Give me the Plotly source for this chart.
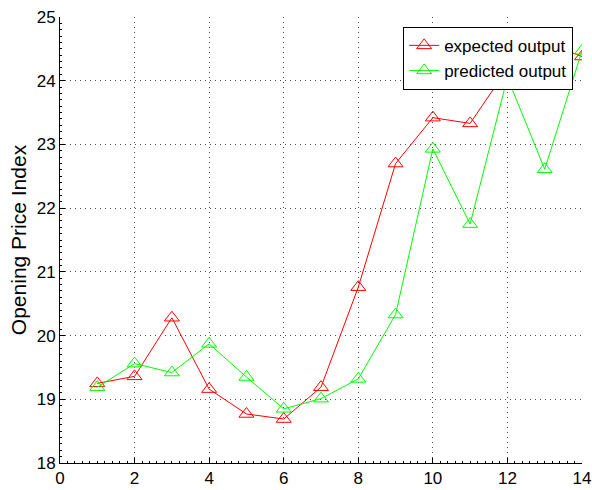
import plotly.graph_objects as go

x_vals = [1, 2, 3, 4, 5, 6, 7, 8, 9, 10, 11, 12, 13, 14]
expected = [19.25, 19.36, 20.28, 19.16, 18.77, 18.69, 19.19, 20.76, 22.70, 23.42, 23.33, 24.19, 24.60, 24.38]
predicted = [19.19, 19.56, 19.42, 19.87, 19.35, 18.85, 19.01, 19.32, 20.33, 22.93, 21.75, 24.05, 22.61, 24.47]
x_ticks = [0, 2, 4, 6, 8, 10, 12, 14]
y_ticks = [18, 19, 20, 21, 22, 23, 24, 25]

FONT = "Liberation Sans, Arial, Helvetica, sans-serif"

fig = go.Figure()
fig.add_trace(go.Scatter(
    x=x_vals, y=expected, mode="lines+markers", name="expected output",
    line=dict(color="#ff0000", width=1),
    marker=dict(symbol="triangle-up-open", size=13, color="#ff0000", line=dict(width=1)),
))
fig.add_trace(go.Scatter(
    x=x_vals, y=predicted, mode="lines+markers", name="predicted output",
    line=dict(color="#00ff00", width=1),
    marker=dict(symbol="triangle-up-open", size=13, color="#00ff00", line=dict(width=1)),
))

axis_common = dict(
    showline=True, linecolor="black", linewidth=1, mirror=False,
    showgrid=True, gridcolor="rgba(0,0,0,0.7)", griddash="1px,4px", gridwidth=1,
    zeroline=False, ticks="inside", ticklen=5, tickcolor="black",
    tickfont=dict(family=FONT, size=17, color="black"),
    automargin=False,
)

fig.update_xaxes(
    range=[0, 14], tickvals=x_ticks, ticktext=[str(v) for v in x_ticks],
    minor=dict(dtick=0.2, ticklen=2, ticks="inside", tickcolor="black", showgrid=False),
    ticklabelstandoff=0,
    **axis_common,
)
fig.update_yaxes(
    range=[18, 25], tickvals=y_ticks, ticktext=[str(v) for v in y_ticks],
    minor=dict(dtick=0.1, ticklen=2, ticks="inside", tickcolor="black", showgrid=False),
    title=dict(text="Opening Price Index", font=dict(family=FONT, size=21, color="black"), standoff=4),
    **axis_common,
)

fig.update_layout(
    width=592, height=490,
    margin=dict(l=60, r=10, t=17, b=27, autoexpand=False),
    paper_bgcolor="white", plot_bgcolor="white",
    font=dict(family=FONT, color="black"),
    legend=dict(
        x=0.983, y=0.978, xanchor="right", yanchor="top",
        bgcolor="white", bordercolor="black", borderwidth=1,
        font=dict(family=FONT, size=17, color="black"),
        tracegroupgap=0,
    ),
    showlegend=True,
)

fig.write_html("out.html")
